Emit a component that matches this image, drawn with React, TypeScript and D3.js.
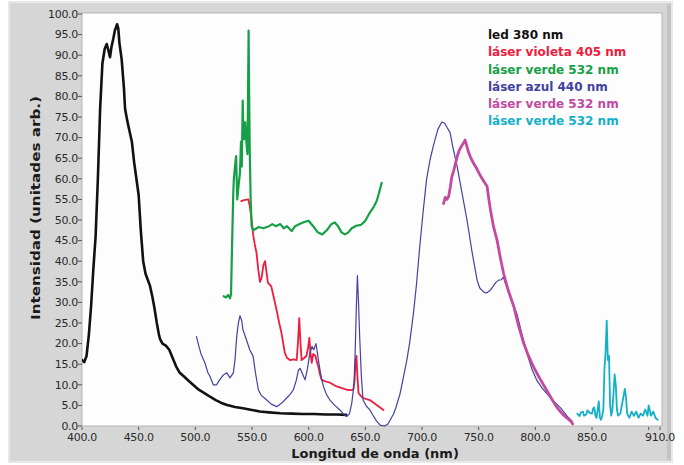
import React from "react";
import * as d3 from "d3";

const xTicks = [400, 450, 500, 550, 600, 650, 700, 750, 800, 850, 900, 910];
const xTickLabels = ["400.0", "450.0", "500.0", "550.0", "600.0", "650.0", "700.0", "750.0", "800.0", "850.0", "", "910.0"];
const yTicks = [0, 5, 10, 15, 20, 25, 30, 35, 40, 45, 50, 55, 60, 65, 70, 75, 80, 85, 90, 95, 100];

const legendLabels = ["led 380 nm", "láser violeta 405 nm", "láser verde 532 nm", "láser azul 440 nm", "láser verde 532 nm", "láser verde 532 nm"];

const led380: [number, number][] = [
  [400, 16], [402, 15.5], [404, 17], [406, 22], [408, 29], [410, 38], [412, 46], [414, 60], [416, 77], [418, 88],
  [420, 91.5], [421.8, 92.7], [423, 91.5], [424.7, 89.5], [426, 92], [427.6, 94], [429, 96], [431, 97.5], [432, 96.5],
  [433, 93], [435, 89], [437, 82], [438, 77], [440, 74], [442, 71.5], [444, 69], [446, 64], [448, 60], [450, 56],
  [452, 47], [454, 40], [456, 37], [458, 35.5], [460, 34], [462, 31.5], [464, 28.5], [466, 25], [468, 22], [469, 21],
  [471, 20], [474, 19.5], [477, 18.5], [480, 16.5], [483, 14.5], [486, 13], [490, 12], [494, 11], [498, 10], [503, 8.8],
  [508, 8], [513, 7.1], [518, 6.3], [523, 5.6], [528, 5.1], [535, 4.6], [542, 4.3], [550, 3.9], [557, 3.5], [565, 3.3],
  [575, 3.1], [585, 3.0], [595, 2.9], [605, 2.9], [615, 2.8], [625, 2.8], [633, 2.7],
];

const violet405: [number, number][] = [
  [540.5, 54.6], [543, 54.8], [546.8, 55], [548, 53.4], [549.7, 50], [551, 46.5], [552.5, 44], [554, 42], [555.5, 38],
  [557, 35], [558.5, 36], [560, 39], [561.5, 40], [563, 37], [564, 34.8], [567, 33.9], [569, 31.5], [571.8, 28],
  [574, 25], [576, 22.6], [579, 17.7], [581, 16.5], [583.5, 16], [586.5, 16.2], [589.4, 16], [590.5, 20], [591.7, 26.2],
  [592.8, 20], [593.8, 16], [596, 16.5], [598, 17], [599.5, 19], [600.6, 21.4], [601.5, 18], [602.7, 15.3], [604, 17.5],
  [606, 17], [607.3, 15.5], [608.6, 14.4], [610, 12.5], [611.5, 11.2], [615, 10.8], [618.8, 10.5], [622, 10], [624.7, 9.6],
  [628, 9.3], [633.6, 8.8], [637, 8.7], [639.4, 8.8], [640.5, 11], [641.5, 16], [642.2, 17], [643, 12], [644, 8],
  [646, 7.3], [648, 6.8], [651, 6.5], [654, 6.3], [657, 5.7], [660, 5.1], [663, 4.5], [666, 3.9],
];

const green532a: [number, number][] = [
  [525, 31.5], [527, 31.2], [529, 31.8], [530.6, 31.0], [531.5, 32], [532.5, 45], [533.5, 56.7], [534, 60], [535, 63],
  [536, 65.5], [536.5, 60], [537, 55], [538, 58], [539.4, 61.5], [540.3, 69], [541, 63], [541.8, 79], [542.5, 70],
  [543, 69.6], [544, 73.7], [545, 69], [546, 66], [546.5, 80], [547, 96], [547.5, 80], [548, 67], [548.8, 55],
  [549.7, 48.5], [551, 47.5], [553, 47.8], [556, 48.3], [560, 48], [565, 48.5], [568, 49], [571, 48.5], [575, 49],
  [578, 48], [581, 48.5], [585, 47.3], [588, 48.5], [592, 49], [596, 49.5], [600, 49.8], [604, 48.5], [608, 47],
  [612, 46.5], [616, 47.5], [620, 49], [623, 49.4], [626, 48.5], [629, 47], [632, 46.5], [635, 47], [638, 48],
  [642, 48.6], [646, 48.8], [650, 49.8], [654, 51.8], [657, 53], [660, 54.6], [662, 56.5], [664.4, 59],
];

const blue440: [number, number][] = [
  [501, 21.7], [503, 19.5], [505, 17.5], [508.5, 15.3], [511, 13], [513, 12], [515.8, 10], [518.8, 10], [521, 11],
  [524.7, 12.4], [527.7, 12.9], [530.6, 11.7], [533.5, 12.9], [535, 16], [536.5, 21.7], [538, 25], [539.4, 26.8],
  [541, 25.5], [542, 23.4], [545, 21], [548, 18.5], [551, 16.9], [553, 13], [555.6, 8.8], [558, 7.5], [563, 6.3],
  [567, 5.3], [571.8, 4.7], [576, 5.5], [580.6, 6.8], [584, 7.8], [586.5, 8.8], [589, 11], [591, 13.6], [592.4, 14],
  [594, 13], [596.8, 11.2], [599, 14], [601, 17.7], [603, 19.3], [604.5, 18.5], [606.5, 20], [608.6, 16], [611, 12],
  [613, 9.6], [616, 7.5], [618.8, 6.3], [623, 5], [627.6, 3.9], [631, 2.8], [633.6, 2.3], [636, 3], [638, 5.5],
  [640, 10], [641, 17.7], [642, 28], [643, 36.5], [644, 30], [645, 21.7], [646.5, 12], [648, 6.3], [651, 4.8],
  [654, 3.9], [657, 2.5], [660, 1.2], [663, 0.2], [667, 0], [670, 0.5], [672, 1.5], [674.7, 2.8], [677, 4.5],
  [680.6, 7.8], [683, 11], [686.5, 15.8], [689, 20], [692.4, 27.2], [695, 34], [698, 43.5], [701, 52], [704, 59.8],
  [707, 64.5], [710, 68], [714, 72], [717.5, 73.8], [720, 73.5], [722, 72.5], [724.8, 71.2], [727, 68], [731, 63],
  [735, 57], [739.7, 50], [744, 42.5], [748.6, 35.4], [751, 33.5], [754.5, 32.5], [757, 32.3], [760.4, 33], [763, 34],
  [765, 34.8], [767.7, 35.4], [770, 35.5], [772, 36.2], [773, 35], [775, 33.8], [779, 30.5], [783.8, 27.2], [788, 22.5],
  [792.7, 17.5], [797, 13.8], [801.5, 11], [806, 9.2], [810.4, 7.8], [816, 6], [822.3, 4.4], [828, 2.4], [832.4, 1.2],
];

const green532b: [number, number][] = [
  [719, 54], [720.5, 55.5], [722, 55], [723.5, 55.7], [725, 58], [726.4, 60.6], [728, 62], [731, 65.4], [733, 67],
  [735, 68], [736.7, 68.7], [738, 69.4], [739.5, 68], [741, 66.5], [742.6, 65.4], [745, 64], [748.6, 62.3], [751, 61],
  [754.5, 59.4], [757.4, 58.2], [759, 55], [760.4, 52.5], [763, 48.5], [766.3, 45], [769, 41], [772, 37], [776, 33],
  [781, 29], [785, 24.5], [789.8, 20], [794, 17], [798.7, 14.2], [804, 11.5], [810.4, 8.5], [815, 6.3], [819.3, 4.4],
  [825, 2.6], [831.2, 1.2], [833, 0.5],
];

const green532c: [number, number][] = [
  [837, 3.0], [839, 2.4], [840, 3.2], [842, 3.5], [843, 2.5], [845, 2.8], [846, 3.8], [848, 3.2], [850, 3.0], [851, 4.2],
  [852, 4.5], [853, 2.5], [854, 2.0], [855, 4.0], [856, 6.0], [857, 2.0], [858, 1.5], [859, 2.5], [860, 4.0], [861, 14],
  [862, 18], [863, 25.6], [864, 16], [865, 17], [866, 5], [867, 2.5], [868, 4], [869, 8], [870, 12.5], [871, 10],
  [872, 4], [873, 2.5], [875, 3], [877, 6], [879, 9], [880, 7], [881, 3], [883, 2], [885, 3.5], [887, 2.5], [889, 3.5],
  [891, 2], [893, 3], [895, 2.5], [897, 4], [899, 2.5], [900, 5], [902, 2.5], [904, 3.5], [906, 2], [908, 1.5],
];

const seriesList = [
  { data: led380, color: "#111111", width: 2.6 },
  { data: violet405, color: "#ee1d3e", width: 1.8 },
  { data: green532a, color: "#16a045", width: 2.2 },
  { data: blue440, color: "#42429f", width: 1.2 },
  { data: green532b, color: "#c24aa0", width: 2.8 },
  { data: green532c, color: "#14b0c8", width: 1.8 },
];

const W = 684;
const H = 465;
const plot = { left: 82, right: 660, top: 14, bottom: 426 };

export default function App() {
  const x = d3.scaleLinear().domain([400, 910]).range([plot.left, plot.right]);
  const y = d3.scaleLinear().domain([0, 100]).range([plot.bottom, plot.top]);
  const line = d3
    .line<[number, number]>()
    .x((d) => x(d[0]))
    .y((d) => y(d[1]));
  const tickFont = "'DejaVu Sans', Verdana, sans-serif";
  const legendX = 488;
  const legendY0 = 35;
  const legendStep = 17.2;

  return (
    <svg
      width={W}
      height={H}
      style={{ position: "absolute", left: 0, top: 0, display: "block" }}
      xmlns="http://www.w3.org/2000/svg"
    >
      <rect x={0} y={0} width={W} height={H} fill="#ffffff" />
      <rect x={9} y={2} width={663} height={460} fill="#d6d6d6" stroke="#e8e8e8" strokeWidth={2} />
      <rect x={667} y={4} width={4} height={456} fill="#c4c4c4" />
      <rect
        x={plot.left}
        y={plot.top - 1}
        width={plot.right - plot.left + 2}
        height={plot.bottom - plot.top + 1}
        fill="#fdfdfd"
        stroke="#a8a8a8"
        strokeWidth={0.8}
      />
      <defs>
        <clipPath id="plotclip">
          <rect x={plot.left} y={plot.top - 1} width={plot.right - plot.left + 2} height={plot.bottom - plot.top + 2} />
        </clipPath>
      </defs>
      {yTicks.map((t) => (
        <g key={"y" + t}>
          <line x1={plot.left - 4} x2={plot.left} y1={y(t)} y2={y(t)} stroke="#555" strokeWidth={1} />
          <text
            x={plot.left - 4}
            y={y(t)}
            dy="0.35em"
            textAnchor="end"
            fontFamily={tickFont}
            fontSize={11}
            fill="#2a2a2a"
            letterSpacing={-0.3}
          >
            {t.toFixed(1)}
          </text>
        </g>
      ))}
      {xTicks.map((t, i) => (
        <g key={"x" + t}>
          <line x1={x(t)} x2={x(t)} y1={plot.bottom + 1} y2={plot.bottom + 4} stroke="#555" strokeWidth={1} />
          <text
            x={x(t)}
            y={441}
            textAnchor="middle"
            fontFamily={tickFont}
            fontSize={11}
            fill="#2a2a2a"
            letterSpacing={-0.3}
          >
            {xTickLabels[i]}
          </text>
        </g>
      ))}
      <text
        transform={`translate(40, 208) rotate(-90)`}
        textAnchor="middle"
        fontFamily={tickFont}
        fontWeight="bold"
        fontSize={13}
        fill="#1a1a1a"
        textLength={224}
        lengthAdjust="spacingAndGlyphs"
      >
        Intensidad (unitades arb.)
      </text>
      <text
        x={375}
        y={458}
        textAnchor="middle"
        fontFamily={tickFont}
        fontWeight="bold"
        fontSize={13}
        fill="#1a1a1a"
      >
        Longitud de onda (nm)
      </text>
      <g clipPath="url(#plotclip)">
        {seriesList.map((s, i) => (
          <path
            key={"s" + i}
            d={line(s.data) || ""}
            fill="none"
            stroke={s.color}
            strokeWidth={s.width}
            strokeLinejoin="round"
            strokeLinecap="round"
          />
        ))}
      </g>
      {legendLabels.map((lab, i) => (
        <text
          key={"l" + i}
          x={legendX}
          y={legendY0 + i * legendStep}
          dy="0.35em"
          fontFamily={tickFont}
          fontWeight="bold"
          fontSize={12}
          fill={seriesList[i].color}
        >
          {lab}
        </text>
      ))}
    </svg>
  );
}
